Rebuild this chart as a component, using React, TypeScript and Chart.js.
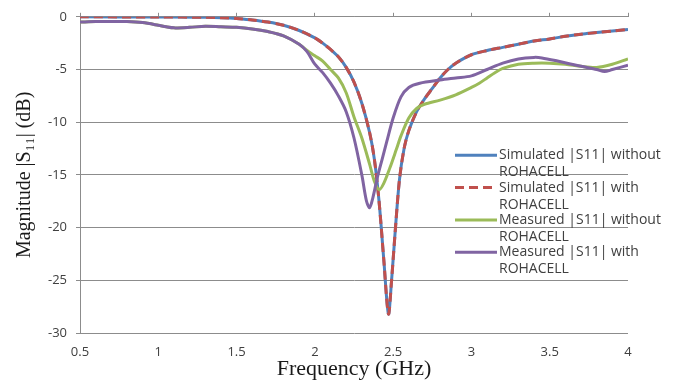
import { useEffect, useRef } from 'react';
import { Chart, registerables } from 'chart.js';

Chart.register(...registerables);

// ---- Data ----
const freqSim = [0.5, 1.0, 1.3, 1.5, 1.6, 1.7, 1.8, 1.9, 2.0, 2.05, 2.1, 2.15, 2.2, 2.25, 2.3, 2.35, 2.38, 2.41, 2.44, 2.47, 2.49, 2.51, 2.54, 2.57, 2.6, 2.65, 2.7, 2.75, 2.8, 2.85, 2.9, 3.0, 3.1, 3.2, 3.3, 3.4, 3.5, 3.6, 3.7, 3.8, 3.9, 4.0];
const simWithout = [0, -0.02, -0.05, -0.15, -0.3, -0.5, -0.8, -1.3, -2.0, -2.5, -3.1, -3.8, -4.8, -6.2, -8.2, -11.0, -13.5, -17.5, -23.0, -28.2, -25.0, -21.0, -15.5, -12.5, -10.8, -9.0, -7.8, -6.8, -5.8, -5.0, -4.4, -3.6, -3.2, -2.9, -2.6, -2.3, -2.1, -1.85, -1.65, -1.5, -1.35, -1.2];
const simWith = [0, -0.02, -0.05, -0.15, -0.3, -0.5, -0.8, -1.3, -2.0, -2.5, -3.1, -3.8, -4.8, -6.2, -8.2, -11.0, -13.5, -17.5, -23.0, -28.2, -25.0, -21.0, -15.5, -12.5, -10.8, -9.0, -7.8, -6.8, -5.8, -5.0, -4.4, -3.6, -3.2, -2.9, -2.6, -2.3, -2.1, -1.85, -1.65, -1.5, -1.35, -1.2];

const freqMeasWithout = [0.5, 0.6, 0.7, 0.8, 0.9, 1.0, 1.05, 1.1, 1.2, 1.3, 1.4, 1.5, 1.6, 1.7, 1.8, 1.9, 1.95, 2.0, 2.05, 2.1, 2.15, 2.2, 2.25, 2.3, 2.35, 2.38, 2.41, 2.44, 2.48, 2.52, 2.55, 2.6, 2.65, 2.7, 2.8, 2.9, 3.0, 3.05, 3.1, 3.15, 3.2, 3.3, 3.4, 3.5, 3.6, 3.7, 3.8, 3.9, 4.0];
const measWithout = [-0.5, -0.45, -0.45, -0.45, -0.55, -0.8, -0.95, -1.05, -1.0, -0.9, -0.95, -1.0, -1.15, -1.4, -1.8, -2.6, -3.2, -3.7, -4.2, -5.0, -5.8, -7.2, -9.5, -11.5, -14.0, -15.6, -16.4, -15.8, -14.3, -12.6, -11.3, -9.6, -8.7, -8.3, -7.9, -7.4, -6.7, -6.3, -5.8, -5.3, -4.9, -4.5, -4.4, -4.4, -4.5, -4.7, -4.8, -4.5, -4.0];

const freqMeasWith = [0.5, 0.6, 0.7, 0.8, 0.9, 1.0, 1.05, 1.1, 1.2, 1.3, 1.4, 1.5, 1.6, 1.7, 1.8, 1.9, 1.95, 2.0, 2.05, 2.1, 2.15, 2.2, 2.25, 2.3, 2.33, 2.35, 2.37, 2.4, 2.43, 2.46, 2.5, 2.55, 2.6, 2.67, 2.8, 2.9, 3.0, 3.1, 3.2, 3.3, 3.4, 3.45, 3.55, 3.7, 3.8, 3.85, 3.9, 4.0];
const measWith = [-0.5, -0.45, -0.45, -0.45, -0.55, -0.8, -0.95, -1.05, -1.0, -0.9, -0.95, -1.0, -1.15, -1.4, -1.8, -2.6, -3.3, -4.5, -5.3, -6.3, -7.5, -9.0, -11.5, -15.0, -17.5, -18.1, -17.2, -15.2, -13.5, -11.8, -9.6, -7.6, -6.7, -6.3, -6.0, -5.8, -5.6, -5.0, -4.4, -4.0, -3.85, -3.9, -4.2, -4.7, -5.0, -5.2, -5.0, -4.6];

const legendLines = [
  ['Simulated |S11| without', 'ROHACELL'],
  ['Simulated |S11| with', 'ROHACELL'],
  ['Measured |S11| without', 'ROHACELL'],
  ['Measured |S11| with', 'ROHACELL'],
];

const xTitle = 'Frequency (GHz)';
const yTitle = 'Magnitude |S\u2081\u2081| (dB)';

const colors = ['#4F81BD', '#C0504D', '#9BBB59', '#8064A2'];
const gridColor = '#8c8c8c';

const pts = (xs: number[], ys: number[]) => xs.map((x, i) => ({ x, y: ys[i] }));

const legendPlugin = {
  id: 'customLegend',
  afterDraw(chart: any) {
    const ctx = chart.ctx;
    const area = chart.chartArea;
    const x0 = area.right - 173;
    const x1 = area.right - 131;
    const tx = area.right - 129;
    const y0 = area.top + 138.5;
    const step = 32.3;
    ctx.save();
    chart.data.datasets.forEach((ds: any, i: number) => {
      const y = y0 + i * step;
      ctx.beginPath();
      ctx.lineWidth = 3;
      ctx.strokeStyle = ds.borderColor;
      ctx.setLineDash(ds.borderDash || []);
      ctx.moveTo(x0, y);
      ctx.lineTo(x1, y);
      ctx.stroke();
      ctx.setLineDash([]);
      ctx.fillStyle = '#404040';
      ctx.font = '14px "Open Sans"';
      ctx.textBaseline = 'middle';
      ctx.textAlign = 'left';
      const lines = legendLines[i];
      lines.forEach((t, j) => ctx.fillText(t, tx, y + j * 17));
    });
    ctx.restore();
  },
};

export default function App() {
  const ref = useRef<HTMLCanvasElement>(null);
  useEffect(() => {
    if (!ref.current) return;
    const chart = new Chart(ref.current, {
      type: 'line',
      data: {
        datasets: [
          { label: legendLines[0].join(' '), data: pts(freqSim, simWithout), borderColor: colors[0], borderWidth: 3, pointRadius: 0, tension: 0.3, order: 4, fill: false },
          { label: legendLines[1].join(' '), data: pts(freqSim, simWith), borderColor: colors[1], borderWidth: 3, borderDash: [9, 5], pointRadius: 0, tension: 0.3, order: 3, fill: false },
          { label: legendLines[2].join(' '), data: pts(freqMeasWithout, measWithout), borderColor: colors[2], borderWidth: 3, pointRadius: 0, tension: 0.3, order: 2, fill: false },
          { label: legendLines[3].join(' '), data: pts(freqMeasWith, measWith), borderColor: colors[3], borderWidth: 3, pointRadius: 0, tension: 0.3, order: 1, fill: false },
        ],
      },
      options: {
        responsive: false,
        animation: false,
        layout: { padding: { top: 11, right: 48, left: 0, bottom: 0 } },
        plugins: { legend: { display: false }, tooltip: { enabled: false } },
        scales: {
          x: {
            type: 'linear',
            position: 'bottom',
            min: 0.5,
            max: 4,
            ticks: { stepSize: 0.5, padding: 11, color: '#404040', font: { family: '"Open Sans"', size: 13 }, callback: (v: any) => String(Number(v)) },
            grid: { drawOnChartArea: false, drawTicks: false },
            border: { display: false },
            title: { display: true, text: xTitle, color: '#1a1a1a', font: { family: '"Liberation Serif"', size: 22, lineHeight: 1.0 }, padding: { top: 0, bottom: 0 } },
            afterFit: (s: any) => { s.height = 47; },
          },
          x2: {
            type: 'linear',
            position: 'top',
            min: 0.5,
            max: 4,
            ticks: { display: false, stepSize: 0.5 },
            grid: { drawOnChartArea: false, tickLength: 4, color: gridColor },
            border: { color: gridColor },
            afterFit: (s: any) => { s.height = 4; },
          },
          y: {
            min: -30,
            max: 0,
            ticks: { stepSize: 5, padding: 9, color: '#404040', font: { family: '"Open Sans"', size: 13 }, callback: (v: any) => String(Number(v)) },
            grid: { color: gridColor, tickLength: 4 },
            border: { color: gridColor },
            title: { display: true, text: yTitle, color: '#1a1a1a', font: { family: '"Liberation Serif"', size: 20, lineHeight: 1.2 }, padding: { top: 13, bottom: 0 } },
            afterFit: (s: any) => { s.width = 80; },
          },
        },
      },
      plugins: [legendPlugin],
    });
    return () => chart.destroy();
  }, []);
  return (
    <div style={{ position: 'absolute', left: 0, top: 0, width: 676, height: 380, background: '#fff' }}>
      <canvas ref={ref} width={676} height={380} style={{ display: 'block' }} />
    </div>
  );
}
